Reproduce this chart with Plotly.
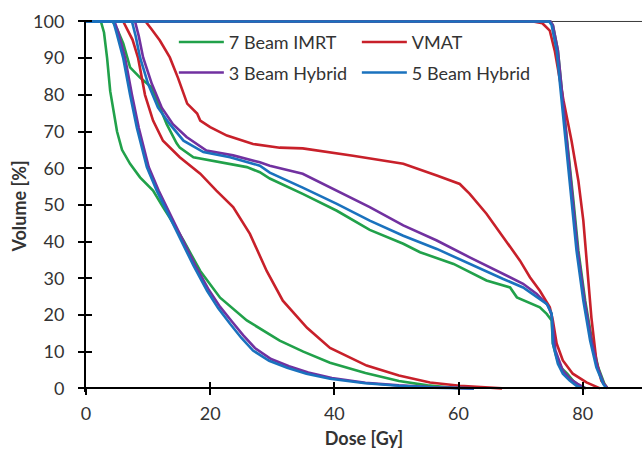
import plotly.graph_objects as go

# ---------------- data (Dose [Gy], Volume [%]) ----------------
plans = ["7 Beam IMRT", "VMAT", "3 Beam Hybrid", "5 Beam Hybrid"]
x_ticks = [0, 20, 40, 60, 80]
y_ticks = [0, 10, 20, 30, 40, 50, 60, 70, 80, 90, 100]

# 7 Beam IMRT
imrt_ptv_dose = [0, 74.8, 75.2, 76.0, 76.8, 77.7, 78.5, 79.3, 80.4, 81.5, 82.5, 83.5, 84.0]
imrt_ptv_vol = [100, 100, 99, 92.1, 78.5, 64.8, 51.2, 37.6, 23.9, 13, 5.7, 1.2, 0]
imrt_mid_dose = [0, 4.3, 5.0, 6.0, 7.1, 8.7, 10.6, 11.9, 13.0, 14.6, 15.1, 17.3, 21.6, 25.9, 28.0, 29.6,
                 34.9, 40.4, 45.7, 51.1, 53.8, 59.2, 64.5, 68.3, 69.4, 73.1, 74.2, 75.0, 75.2, 75.8,
                 76.6, 77.5, 78.5, 79.5, 80.5]
imrt_mid_vol = [100, 100, 98, 94, 87.5, 84.7, 82, 76.6, 72, 66.8, 65.6, 63, 61.6, 60.3, 58.9, 57.2,
                53, 48.4, 43.2, 39.4, 37.1, 33.9, 29.4, 27.5, 24.8, 22.1, 20.3, 18.5, 12.2, 8.4,
                5.5, 4, 2, 0.7, 0]
imrt_low_dose = [0, 2.4, 2.9, 3.4, 3.9, 4.4, 5.0, 5.8, 7.1, 8.7, 10.8, 12.4, 13.5, 15.7, 18.4, 21.6,
                 25.9, 31.2, 35.0, 39.3, 45.0, 50.4, 55.0, 60.0]
imrt_low_vol = [100, 100, 97, 90, 81, 76, 70, 65, 61.2, 57.5, 53.9, 49.4, 46.5, 40.3, 32, 24.7,
                18.5, 13, 10, 7, 4.2, 2, 0.8, 0]

# VMAT
vmat_ptv_dose = [0, 72.0, 73.5, 74.7, 75.5, 76.9, 78.2, 79.3, 80.1, 80.7, 81.4, 82.2, 83.0, 84.0]
vmat_ptv_vol = [100, 100, 99.5, 97.5, 92, 78.5, 67.5, 56.6, 45.7, 33, 19.3, 7.5, 2.1, 0]
vmat_mid_dose = [0, 9.6, 10.5, 11.9, 13.5, 14.8, 16.3, 17.9, 18.4, 20.0, 22.7, 26.9, 31.2, 34.9, 43.0,
                 45.7, 51.1, 56.5, 60.2, 61.8, 64.5, 67.2, 69.9, 71.5, 73.1, 74.7, 75.2, 75.8, 76.8,
                 78.4, 80.6, 82.8]
vmat_mid_vol = [100, 100, 98, 94.8, 90.2, 84.7, 77.6, 74.9, 73, 71.2, 68.9, 66.6, 65.6, 65.4, 63.4,
                62.6, 61.2, 58, 55.7, 53, 47.6, 41.2, 34.8, 30.3, 26.6, 22.1, 18.4, 12.2, 7.6,
                4, 1.6, 0]
vmat_low_dose = [0, 6.0, 6.6, 7.5, 8.4, 9.5, 10.8, 12.4, 15.1, 18.4, 21.0, 23.7, 26.4, 29.1, 31.7,
                 35.6, 39.3, 45.2, 50.4, 55.4, 60.2, 64.0, 67.0]
vmat_low_vol = [100, 100, 98, 95, 90, 80, 73, 67.5, 63, 58.5, 53.9, 49.4, 42.1, 32, 23.9,
                16.5, 11, 6.2, 3.5, 1.6, 0.7, 0.2, 0]

# 3 Beam Hybrid
hyb3_ptv_dose = [0, 74.8, 75.2, 76.0, 76.8, 77.6, 78.4, 79.2, 80.3, 81.4, 82.4, 83.4, 84.0]
hyb3_ptv_vol = [100, 100, 99, 92.1, 78.5, 64.8, 51.2, 37.6, 23.9, 13, 5.7, 1.2, 0]
hyb3_mid_dose = [0, 7.9, 8.5, 9.2, 10.6, 12.2, 14.0, 16.2, 19.4, 23.7, 28.0, 29.6, 34.9, 40.4, 45.7,
                 51.1, 56.5, 61.8, 67.2, 70.4, 72.6, 74.4, 75.0, 75.3, 75.6, 76.8, 78.0, 79.1, 80.5]
hyb3_mid_vol = [100, 100, 96, 90.2, 83, 76.5, 72, 68.5, 64.8, 63.5, 61.6, 60.7, 58.5, 53.9, 49.4,
                44.4, 40.3, 35.7, 31.2, 28.5, 25.7, 22.6, 20, 14.9, 10.3, 4.8, 2.5, 1.3, 0]
hyb3_low_dose = [0, 4.6, 5.2, 6.3, 7.4, 8.5, 10.1, 11.7, 13.8, 15.4, 17.6, 19.8, 21.6, 23.5, 25.3,
                 27.2, 29.8, 32.7, 35.8, 39.6, 45.0, 50.4, 56.0, 62.5]
hyb3_low_vol = [100, 100, 97, 90, 80, 71, 60.3, 53.9, 46.6, 41.2, 33.5, 26.8, 22.2, 18.2, 14.5,
                11, 8, 6, 4.3, 2.8, 1.5, 0.8, 0.3, 0]

# 5 Beam Hybrid
hyb5_ptv_dose = [0, 74.6, 75.0, 75.8, 76.6, 77.4, 78.2, 79.0, 80.1, 81.2, 82.2, 83.3, 83.8]
hyb5_ptv_vol = [100, 100, 99, 92.1, 78.5, 64.8, 51.2, 37.6, 23.9, 13, 5.7, 1.2, 0]
hyb5_mid_dose = [0, 7.4, 8.0, 8.7, 10.0, 11.6, 13.5, 15.7, 18.9, 23.2, 28.0, 29.6, 34.9, 40.4, 45.7,
                 51.1, 56.5, 61.8, 67.2, 70.4, 72.6, 74.2, 75.0, 75.2, 76.0, 76.8, 77.9, 79.0, 80.0]
hyb5_mid_vol = [100, 100, 96, 90.2, 83, 76.5, 72, 67.5, 64.4, 63, 60.7, 58.8, 54.7, 50.3, 45.7,
                41.6, 38, 33.9, 29.8, 27.5, 24.8, 23, 20.4, 12.2, 6.7, 4, 2.1, 0.7, 0]
hyb5_low_dose = [0, 4.4, 4.9, 6.0, 7.1, 8.2, 9.8, 11.4, 13.5, 15.1, 17.3, 19.5, 21.3, 23.2, 25.0,
                 26.9, 29.5, 32.4, 35.5, 39.3, 45.0, 50.4, 56.0, 62.5]
hyb5_low_vol = [100, 100, 97, 90, 80, 71, 60.3, 53.9, 46.6, 41.2, 33.5, 26.6, 21.8, 17.6, 13.8,
                10.3, 7.5, 5.6, 4, 2.6, 1.4, 0.7, 0.2, 0]

# ---------------- styling ----------------
colors = {"7 Beam IMRT": "#21a14a", "VMAT": "#c8202a",
          "3 Beam Hybrid": "#7131a0", "5 Beam Hybrid": "#1a72be"}
legend_of = {"7 Beam IMRT": "legend", "VMAT": "legend",
             "3 Beam Hybrid": "legend2", "5 Beam Hybrid": "legend2"}
curves = {
    "7 Beam IMRT": [(imrt_ptv_dose, imrt_ptv_vol), (imrt_mid_dose, imrt_mid_vol), (imrt_low_dose, imrt_low_vol)],
    "VMAT": [(vmat_ptv_dose, vmat_ptv_vol), (vmat_mid_dose, vmat_mid_vol), (vmat_low_dose, vmat_low_vol)],
    "3 Beam Hybrid": [(hyb3_ptv_dose, hyb3_ptv_vol), (hyb3_mid_dose, hyb3_mid_vol), (hyb3_low_dose, hyb3_low_vol)],
    "5 Beam Hybrid": [(hyb5_ptv_dose, hyb5_ptv_vol), (hyb5_mid_dose, hyb5_mid_vol), (hyb5_low_dose, hyb5_low_vol)],
}

FONT = "Lato, 'Open Sans', sans-serif"
TXT = "#333333"
FS = 18
X_MAX = 89.55
Y_MIN, Y_MAX = -1.0, 100.4

fig = go.Figure()
for plan in plans:
    for i, (dx, vy) in enumerate(curves[plan]):
        fig.add_trace(go.Scatter(
            x=dx, y=vy, mode="lines", name=plan,
            line=dict(color=colors[plan], width=2.6),
            showlegend=(i == 0), legend=legend_of[plan], legendgroup=plan,
            hoverinfo="skip"))

# dummy trace to host the overlay axes used for the inner half of the cross ticks
fig.add_trace(go.Scatter(x=[None], y=[None], xaxis="x2", yaxis="y2",
                         showlegend=False, hoverinfo="skip"))

x_pos = (0 - Y_MIN) / (Y_MAX - Y_MIN)

axis_common = dict(showgrid=False, zeroline=False, tickcolor="black", tickwidth=1.5, ticklen=6,
                   automargin=False)
legend_common = dict(orientation="h", x=0.158, xanchor="left", yanchor="middle",
                     bgcolor="rgba(0,0,0,0)", itemwidth=45, entrywidth=123, entrywidthmode="pixels",
                     font=dict(family=FONT, size=FS, color=TXT))
fig.update_layout(
    width=642, height=449,
    margin=dict(l=86, r=0, t=19.5, b=57.3),
    paper_bgcolor="white", plot_bgcolor="white",
    font=dict(family=FONT, size=FS, color=TXT),
    xaxis=dict(range=[0, X_MAX], tickvals=x_ticks, ticks="outside",
               showline=True, linecolor="black", linewidth=2,
               anchor="free", position=x_pos,
               ticklabelstandoff=3,
               title=dict(text="<b>Dose [Gy]</b>", font=dict(size=FS, family=FONT, color=TXT), standoff=9),
               **axis_common),
    yaxis=dict(range=[Y_MIN, Y_MAX], tickvals=y_ticks, ticks="outside",
               showline=True, linecolor="black", linewidth=2,
               ticklabelstandoff=10,
               title=dict(text="<b>Volume [%]</b>", font=dict(size=FS, family=FONT, color=TXT), standoff=2),
               **axis_common),
    xaxis2=dict(range=[0, X_MAX], tickvals=x_ticks, ticks="inside", overlaying="x",
                anchor="free", position=x_pos, showticklabels=False, showline=False, **axis_common),
    yaxis2=dict(range=[Y_MIN, Y_MAX], tickvals=y_ticks, ticks="inside", overlaying="y",
                showticklabels=False, showline=False, **axis_common),
    legend=dict(y=0.94, **legend_common),
    legend2=dict(y=0.858, **legend_common),
    shapes=[dict(type="line", xref="x", yref="y", x0=0, x1=X_MAX, y0=100, y1=100,
                 line=dict(color="#3a3a3a", width=1), layer="below")],
)

fig.write_html("out.html", config={"displayModeBar": False},
               post_script="document.body.style.margin='0';document.body.style.overflow='hidden';")
